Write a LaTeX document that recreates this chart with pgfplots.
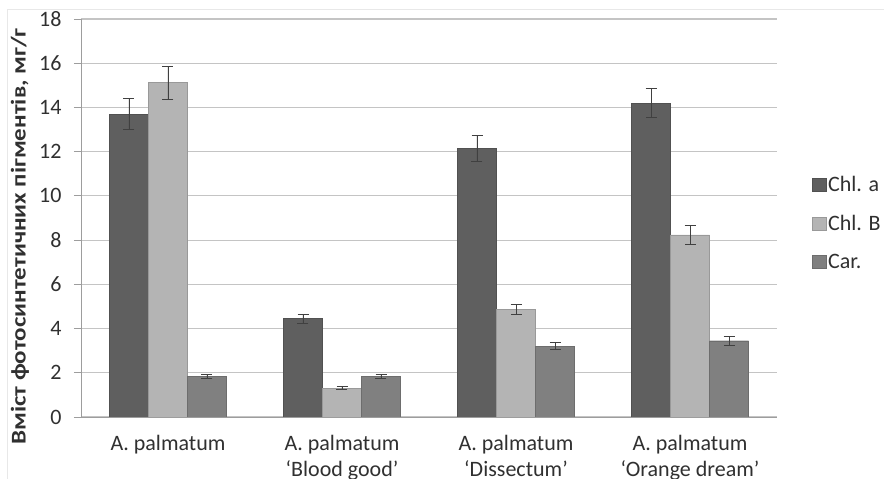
\documentclass[border=0pt]{standalone}
\usepackage{fontspec}
\setmainfont{Carlito}
\newfontfamily\labfont[FakeStretch=1.19]{Carlito}
\usepackage{pgfplots}
\pgfplotsset{compat=1.18}
\definecolor{chla}{HTML}{5F5F5F}
\definecolor{chlb}{HTML}{B4B4B4}
\definecolor{car}{HTML}{808080}
\definecolor{gridc}{HTML}{C4C4C4}
\definecolor{txt}{HTML}{303030}
\begin{document}
\begin{tikzpicture}
\begin{axis}[
  scale only axis, width=696pt, height=398pt,
  ybar=0pt, bar width=39pt,
  xmin=-0.5, xmax=3.5, ymin=0, ymax=18,
  ytick={0,2,...,18},
  xtick={0,1,2,3},
  xticklabels={A. palmatum, {A. palmatum\\‘Blood good’}, {A. palmatum\\‘Dissectum’}, {A. palmatum\\‘Orange dream’}},
  xticklabel style={align=center, font=\fontsize{22}{26}\selectfont, text=txt, yshift=-8pt},
  yticklabel style={font=\fontsize{22}{26}\selectfont, text=txt, xshift=-9pt},
  /pgf/number format/assume math mode=true,
  extra x ticks={-0.5,0.5,1.5,2.5,3.5},
  extra x tick labels={},
  extra x tick style={major tick length=7pt, tick style={gridc!80!black, line width=0.8pt}},
  major x tick style={draw=none},
  major tick length=7pt,
  tick align=outside,
  axis x line*=bottom, axis y line*=left,
  axis line style={gridc!80!black, line width=0.8pt},
  y tick style={gridc!80!black, line width=0.8pt},
  ymajorgrids, grid style={gridc, line width=1.1pt},
  ylabel={\labfont\bfseries Вміст фотосинтетичних пігментів, мг/г},
  ylabel style={font=\fontsize{21}{24}\selectfont, text=txt, at={(axis description cs:-0.0876,0.4535)}, anchor=center},
  legend style={at={(1.046,0.487)}, anchor=west, draw=none, fill=none,
    font=\fontsize{22}{26}\selectfont, text=txt, row sep=19pt,
    nodes={inner sep=1.5pt}},
  legend cell align=left,
  legend image code/.code={\fill[#1] (0pt,-6.5pt) rectangle (14pt,6.5pt);},
  error bars/error bar style={color=black!75, line width=0.9pt},
  error bars/error mark options={rotate=90, mark size=5.5pt, line width=0.9pt, color=black!75},
]
\addplot[fill=chla, draw=chla!85!black, line width=0.4pt,
  error bars/.cd, y dir=both, y explicit]
  coordinates {(0,13.7) +- (0,0.7) (1,4.45) +- (0,0.2) (2,12.15) +- (0,0.6) (3,14.2) +- (0,0.65)};
\addplot[fill=chlb, draw=chlb!85!black, line width=0.4pt,
  error bars/.cd, y dir=both, y explicit]
  coordinates {(0,15.12) +- (0,0.75) (1,1.3) +- (0,0.06) (2,4.87) +- (0,0.24) (3,8.24) +- (0,0.43)};
\addplot[fill=car, draw=car!85!black, line width=0.4pt,
  error bars/.cd, y dir=both, y explicit]
  coordinates {(0,1.84) +- (0,0.08) (1,1.83) +- (0,0.08) (2,3.2) +- (0,0.16) (3,3.45) +- (0,0.2)};
\legend{Chl. a, Chl. B, Car.}
\coordinate (O) at (rel axis cs:0,0);
\end{axis}
\pgfresetboundingbox
\path[use as bounding box, shift={(O)}] (-81pt,-62pt) rectangle (803pt,417pt);
\draw[gray!18, line width=1pt, shift={(O)}] (-73pt,-90pt) rectangle (830pt,407pt);
\end{tikzpicture}
\end{document}
